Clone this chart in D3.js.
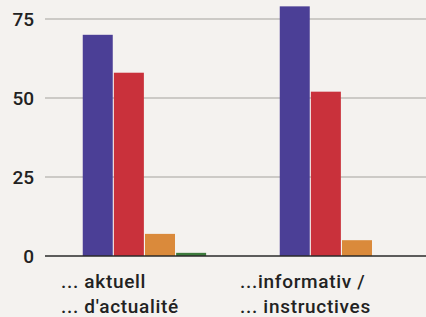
<!DOCTYPE html>
<html><head><meta charset="utf-8">
<script src="https://cdn.jsdelivr.net/npm/d3@7"></script>
<style>html,body{margin:0;padding:0;background:#f4f2ef;}svg{display:block;}</style>
</head><body>
<svg id="c" width="426" height="317"></svg>
<script>
const categories = ["aktuell", "informativ"];
const labelLine1 = ["... aktuell", "...informativ /"];
const labelLine2 = ["... d'actualité", "... instructives"];
const seriesNames = ["s1", "s2", "s3", "s4"];
const series1 = [70, 79];
const series2 = [58, 52];
const series3 = [7, 5];
const series4 = [1, 0];
const yTicks = [0, 25, 50, 75];
const colors = ["#4b3f96", "#c9313b", "#da8a3b", "#3d7a3c"];

const allSeries = [series1, series2, series3, series4];
const svg = d3.select("#c");
const y = d3.scaleLinear().domain([0, 75]).range([256, 19]);
const x0 = d3.scaleBand().domain(categories).range([46.5, 440.5]).paddingInner(0).paddingOuter(0);
const bw = 30, gap = 1.5;
const x1 = d3.scaleBand().domain(seriesNames).range([0, 4 * bw + 3 * gap]).padding(0);

// grid
svg.append("g").selectAll("line").data(yTicks.filter(d => d > 0)).join("line")
  .attr("x1", 45).attr("x2", 426).attr("y1", d => y(d)).attr("y2", d => y(d))
  .attr("stroke", "#a3a19e").attr("stroke-width", 1.2);

// y labels
svg.append("g").selectAll("text").data(yTicks).join("text")
  .attr("x", 34).attr("y", d => y(d) + 7).attr("text-anchor", "end")
  .attr("font-family", "Roboto").attr("font-weight", 500).attr("font-size", 19)
  .attr("fill", "#222").text(d => d);

// bars
const groupW = 4 * bw + 3 * gap;
categories.forEach((c, i) => {
  const gx = x0(c) + x0.bandwidth() / 2 - groupW / 2;
  seriesNames.forEach((s, j) => {
    const v = allSeries[j][i];
    if (v <= 0) return;
    svg.append("rect")
      .attr("x", gx + x1(s)).attr("width", bw)
      .attr("y", y(v)).attr("height", y(0) - y(v))
      .attr("fill", colors[j]);
  });
});

// baseline
svg.append("line").attr("x1", 45).attr("x2", 426).attr("y1", y(0)).attr("y2", y(0))
  .attr("stroke", "#2a2a2a").attr("stroke-width", 1.5);

// category labels
const labelX = [61, 240];
categories.forEach((c, i) => {
  const t = svg.append("text").attr("font-family", "Roboto").attr("font-weight", 500)
    .attr("font-size", 19).attr("fill", "#222").attr("letter-spacing", 0.7);
  t.append("tspan").attr("x", labelX[i]).attr("y", 288).text(labelLine1[i]);
  t.append("tspan").attr("x", labelX[i]).attr("y", 313).text(labelLine2[i]);
});
</script>
</body></html>
